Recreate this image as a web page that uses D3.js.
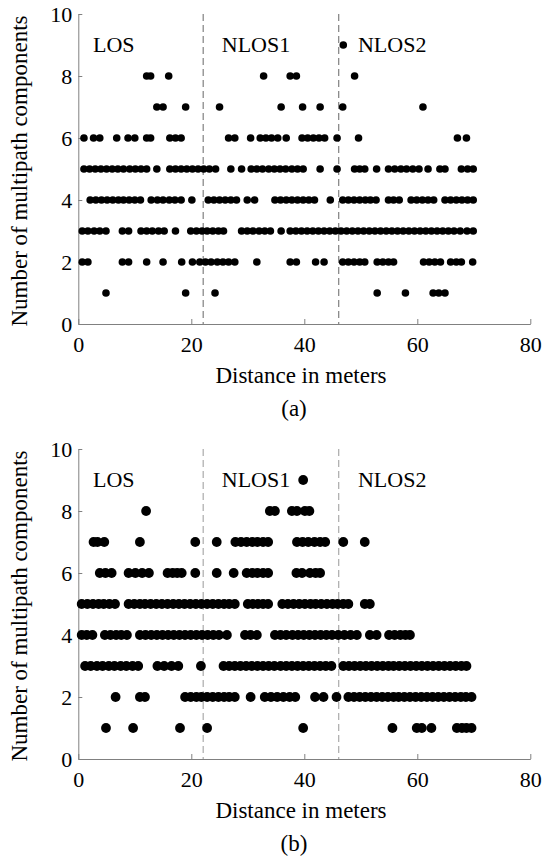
<!DOCTYPE html>
<html><head><meta charset="utf-8">
<script src="https://cdn.jsdelivr.net/npm/d3@7/dist/d3.min.js"></script>
<style>
body{margin:0;background:#fff}
text{font-family:"Liberation Serif","Times New Roman",serif;fill:#000}
</style>
</head><body>
<svg id="chart" width="542" height="856"></svg>
<script>
// ---- tick labels / annotations ----
const xTicks = [0, 20, 40, 60, 80];
const yTicks = [0, 2, 4, 6, 8, 10];
const regionNames = ["LOS", "NLOS1", "NLOS2"];
const regionStarts = [2.6, 25.4, 49.5];
const boundaries = [22.1, 46.1];
const counts = [1, 2, 3, 4, 5, 6, 7, 8, 9];

// ---- chart (a): distances (m) observed for each number of components ----
const a1 = [4.9, 19.0, 24.2, 52.9, 57.9, 62.8, 63.8, 64.9];
const a2 = [0.7, 1.7, 7.8, 8.9, 12.1, 15.0, 18.3, 20.2, 21.5, 22.5, 23.5, 24.6, 25.6, 26.6, 27.7, 31.6, 37.5, 38.6, 42.0, 43.5, 46.8, 47.8, 48.8, 49.8, 50.7, 52.9, 53.9, 54.9, 55.8, 61.1, 62.1, 63.1, 64.1, 65.9, 66.9, 67.8, 69.8];
const a3 = [0.7, 1.7, 2.8, 3.8, 4.9, 7.8, 8.9, 11.1, 12.1, 13.1, 14.2, 15.2, 17.2, 19.9, 20.9, 21.9, 22.8, 23.8, 24.8, 25.7, 28.9, 29.9, 30.9, 32.0, 33.0, 34.0, 35.9, 37.5, 38.5, 39.5, 40.5, 41.5, 42.5, 43.5, 44.5, 45.5, 46.5, 47.5, 48.5, 49.5, 50.5, 51.5, 52.5, 53.5, 54.5, 55.5, 56.5, 57.5, 58.5, 59.5, 60.5, 61.5, 62.5, 63.5, 64.5, 65.5, 66.5, 67.6, 68.8, 69.9];
const a4 = [2.1, 3.1, 4.1, 5.1, 6.1, 7.1, 8.0, 9.0, 10.0, 11.0, 12.9, 14.0, 15.0, 16.1, 17.1, 18.2, 20.1, 23.0, 24.0, 25.0, 26.0, 27.0, 28.0, 29.9, 31.2, 34.8, 35.8, 36.8, 37.8, 38.8, 39.8, 40.8, 41.8, 44.6, 46.8, 47.8, 48.8, 49.8, 50.8, 51.7, 52.7, 54.9, 55.8, 56.8, 58.9, 59.9, 60.9, 61.9, 62.9, 64.9, 65.9, 66.9, 67.9, 68.9, 69.9];
const a5 = [1.0, 2.0, 3.0, 4.0, 5.0, 6.0, 7.0, 8.0, 9.1, 10.1, 11.1, 12.1, 13.9, 16.2, 17.2, 18.2, 19.2, 20.2, 21.2, 22.2, 23.2, 24.3, 27.0, 28.9, 30.6, 31.6, 32.6, 33.7, 34.7, 35.7, 36.7, 37.8, 38.8, 39.8, 42.8, 45.8, 48.9, 49.8, 50.7, 52.8, 54.9, 56.0, 57.1, 58.1, 59.2, 60.3, 61.9, 64.0, 64.9, 67.8, 68.9, 69.9];
const a6 = [1.0, 2.7, 3.8, 6.8, 8.8, 10.0, 12.1, 12.8, 16.2, 17.2, 18.2, 26.6, 27.7, 30.5, 32.2, 33.2, 34.2, 35.3, 36.8, 39.6, 40.6, 41.6, 42.6, 43.6, 45.8, 49.6, 67.1, 68.7];
const a7 = [13.9, 15.0, 19.0, 25.0, 35.9, 39.7, 42.8, 46.8, 61.0];
const a8 = [12.1, 12.8, 16.0, 32.8, 37.5, 38.6, 48.9];
const a9 = [46.9];

// ---- chart (b) ----
const b1 = [4.9, 9.7, 18.0, 22.8, 39.8, 55.6, 59.9, 60.8, 62.5, 67.0, 67.9, 68.7, 69.6];
const b2 = [6.6, 10.9, 11.8, 18.9, 19.9, 20.9, 21.8, 22.8, 23.8, 24.8, 25.8, 26.7, 27.7, 30.5, 33.0, 34.1, 35.2, 36.3, 37.4, 38.4, 41.9, 43.4, 45.7, 47.8, 48.8, 49.8, 50.8, 51.8, 52.8, 53.8, 54.8, 55.8, 56.7, 57.7, 58.7, 59.7, 60.7, 61.7, 62.7, 63.7, 64.7, 65.7, 66.7, 67.7, 68.6, 69.6];
const b3 = [1.2, 2.2, 3.3, 4.3, 5.4, 6.4, 7.5, 8.5, 9.6, 10.6, 14.0, 15.2, 16.5, 17.7, 21.7, 25.7, 26.7, 27.7, 28.7, 29.7, 30.7, 31.7, 32.7, 33.7, 34.7, 35.8, 36.8, 37.8, 38.8, 39.8, 40.8, 41.8, 42.8, 43.8, 44.8, 46.9, 47.9, 48.9, 49.9, 50.9, 51.9, 52.9, 53.9, 54.9, 55.8, 56.8, 57.8, 58.8, 59.8, 60.8, 61.8, 62.8, 63.8, 64.8, 65.8, 66.8, 67.8, 68.7];
const b4 = [0.6, 1.5, 2.5, 4.7, 5.7, 6.7, 7.6, 8.6, 10.9, 11.9, 12.9, 13.9, 14.9, 15.9, 16.9, 17.9, 18.9, 19.9, 20.9, 21.9, 22.9, 23.9, 24.9, 26.3, 29.5, 30.5, 31.6, 34.8, 35.8, 36.8, 37.9, 38.9, 39.9, 40.9, 41.9, 42.9, 43.9, 44.9, 46.0, 47.1, 48.2, 49.3, 51.6, 52.8, 55.0, 56.0, 57.0, 57.9, 58.7];
const b5 = [0.6, 1.6, 2.6, 3.6, 4.5, 5.5, 6.5, 8.9, 9.9, 10.9, 11.8, 12.8, 13.8, 14.8, 15.8, 16.8, 17.8, 18.8, 19.8, 20.8, 21.8, 22.8, 23.8, 24.8, 25.8, 26.7, 27.7, 30.0, 30.9, 31.8, 32.7, 33.6, 36.1, 37.1, 38.1, 39.1, 40.1, 41.1, 42.0, 43.0, 44.0, 45.0, 45.9, 46.9, 47.8, 50.7, 51.6];
const b6 = [3.8, 4.8, 5.9, 8.9, 10.1, 11.3, 12.5, 15.8, 16.7, 17.5, 18.3, 20.7, 24.5, 27.5, 29.8, 30.8, 31.7, 32.7, 33.6, 38.6, 39.6, 41.0, 42.0, 42.8];
const b7 = [2.7, 3.4, 4.6, 10.9, 20.7, 24.5, 27.8, 28.8, 29.8, 30.8, 31.7, 32.7, 33.6, 38.7, 39.7, 40.7, 41.8, 42.8, 43.7, 46.9, 50.7];
const b8 = [12.0, 33.9, 34.8, 37.8, 38.7, 40.1, 40.9];
const b9 = [39.8];

const seriesA = [a1, a2, a3, a4, a5, a6, a7, a8, a9];
const seriesB = [b1, b2, b3, b4, b5, b6, b7, b8, b9];

const svg = d3.select("#chart");
svg.append("rect").attr("width", 542).attr("height", 856).attr("fill", "#fff");

function drawPanel(top, series, radius, dashColor, caption) {
  const x = d3.scaleLinear().domain([0, 80]).range([78.3, 530.3]);
  const y = d3.scaleLinear().domain([0, 10]).range([top + 310, top]);
  const g = svg.append("g");

  const pts = [];
  series.forEach((arr, i) => arr.forEach(d => pts.push({x: d, y: counts[i]})));

  // axes
  const ax = g.append("g").attr("transform", `translate(0,${y(0)})`)
    .call(d3.axisBottom(x).tickValues(xTicks).tickSizeInner(-5).tickSizeOuter(0).tickPadding(12));
  const ay = g.append("g").attr("transform", `translate(${x(0)},0)`)
    .call(d3.axisLeft(y).tickValues(yTicks).tickSizeInner(-4).tickSizeOuter(0).tickPadding(6));
  [ax, ay].forEach(a => {
    a.select(".domain").attr("stroke", "#808080");
    a.selectAll(".tick line").attr("stroke", "#808080");
    a.selectAll(".tick text").attr("font-size", 22).attr("font-family", "Liberation Serif").attr("fill", "#000");
  });

  // region boundaries
  g.selectAll("line.bound").data(boundaries).enter().append("line")
    .attr("x1", d => x(d)).attr("x2", d => x(d))
    .attr("y1", y(10)).attr("y2", y(0))
    .attr("stroke", dashColor).attr("stroke-width", 1).attr("stroke-dasharray", "7,4");

  // points
  g.selectAll("circle").data(pts).enter().append("circle")
    .attr("cx", d => x(d.x)).attr("cy", d => y(d.y)).attr("r", radius).attr("fill", "#000");

  // region labels
  g.selectAll("text.reg").data(regionNames).enter().append("text")
    .attr("x", (d, i) => x(regionStarts[i])).attr("y", top + 38)
    .attr("font-size", 22).text(d => d);

  g.append("text").attr("x", 301).attr("y", top + 369).attr("text-anchor", "middle")
    .attr("font-size", 23).text("Distance in meters");
  g.append("text").attr("x", 294).attr("y", top + 402).attr("text-anchor", "middle")
    .attr("font-size", 23).text(caption);
  g.append("text").attr("transform", `translate(27,${top + 157}) rotate(-90)`)
    .attr("text-anchor", "middle").attr("font-size", 23).text("Number of multipath components");
}

drawPanel(14, seriesA, 3.8, "#666", "(a)");
drawPanel(449, seriesB, 4.9, "#999", "(b)");
</script>
</body></html>
